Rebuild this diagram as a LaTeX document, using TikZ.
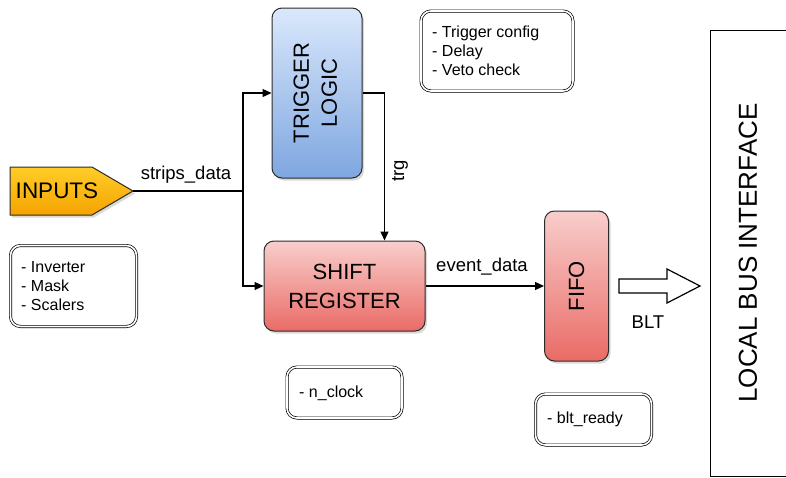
\documentclass[tikz,border=0pt]{standalone}
\usepackage{fontspec}
\setmainfont{Liberation Sans}
\usetikzlibrary{arrows.meta,shadows,calc}

\definecolor{orangetop}{HTML}{FFCD28}
\definecolor{orangebot}{HTML}{F5A300}
\definecolor{bluetop}{HTML}{DAE8FC}
\definecolor{bluebot}{HTML}{7EA6E0}
\definecolor{redtop}{HTML}{F8CECC}
\definecolor{redbot}{HTML}{EA6B66}
\definecolor{edge}{HTML}{2B2B2B}

\tikzset{
  blockshadow/.style={drop shadow={opacity=0.3,shadow xshift=2pt,shadow yshift=-2.5pt}},
  block/.style={draw=edge, line width=1pt, rounded corners=10pt, inner sep=0pt,
    blockshadow, font=\fontsize{22}{29}\selectfont, align=center},
  blueblock/.style={block, top color=bluetop, bottom color=bluebot},
  redblock/.style={block, top color=redtop, bottom color=redbot},
  notebox/.style={draw=black, fill=white, line width=0.7pt, double=white, double distance=1.6pt,
    rounded corners=10pt, inner sep=0pt,
    drop shadow={opacity=0.2,shadow xshift=1pt,shadow yshift=-1.5pt}},
  notetext/.style={font=\fontsize{16}{19}\selectfont, align=left, anchor=west, inner sep=0pt},
  wire/.style={line width=1.3pt, draw=black},
  arrowwire/.style={wire, -{Triangle[length=9pt,width=8pt]}},
  lbl/.style={font=\fontsize{18.5}{21}\selectfont, inner sep=0pt},
}

\begin{document}
\begin{tikzpicture}[x=1pt,y=-1pt]
\useasboundingbox (0,0) rectangle (786,477);

% input port
\path[draw=edge, line width=1pt, top color=orangetop, bottom color=orangebot, blockshadow]
  (10,167) -- (92,167) -- (133,191) -- (92,215) -- (10,215) -- cycle;
\node[font=\fontsize{22.5}{26}\selectfont, inner sep=0pt] (inputs) at (57,191) {INPUTS};
\coordinate (inputstip) at (133,191);

% processing blocks
\node[blueblock, minimum width=90pt, minimum height=170pt] (trig) at (317,93)
  {\rotatebox{90}{\begin{tabular}{@{}c@{}}TRIGGER\\[-1pt]LOGIC\end{tabular}}};
\node[redblock, minimum width=161pt, minimum height=90pt] (shift) at (344.5,286)
  {SHIFT\\REGISTER};
\node[redblock, minimum width=64pt, minimum height=150pt] (fifo) at (576.5,286)
  {\rotatebox{90}{FIFO}};

% notes
\node[notebox, minimum width=152pt, minimum height=80pt] (notetrig) at (497,51) {};
\node[notetext] (notetrigtext) at (432,51) {- Trigger config\\- Delay\\- Veto check};
\node[notebox, minimum width=126pt, minimum height=81pt] (noteinp) at (73.5,286) {};
\node[notetext] (noteinptext) at (21,286) {- Inverter\\- Mask\\- Scalers};
\node[notebox, minimum width=115pt, minimum height=51pt] (noteshift) at (344.5,392.5) {};
\node[notetext] (noteshifttext) at (299,393) {- n\_clock};
\node[notebox, minimum width=116pt, minimum height=51pt] (notefifo) at (593.5,419.5) {};
\node[notetext] (notefifotext) at (547,419) {- blt\_ready};

% connectors
\coordinate (split) at (243,191);
\draw[wire] (inputstip) -- (split);
\draw[arrowwire] (split) |- (trig.west);
\draw[arrowwire] (split) |- (shift.west);
\node[lbl] (stripslbl) at (186,175) {strips\_data};

\draw[arrowwire] (trig.east) -| ([xshift=40pt]shift.north);
\node[lbl, rotate=90] (trglbl) at (400,171) {trg};

\draw[arrowwire] (shift.east) -- (fifo.west);
\node[lbl] (eventlbl) at (482,267) {event\_data};

% block transfer arrow
\draw[line width=1.2pt, fill=white]
  (619,279) -- (667,279) -- (667,269) -- (700,286) -- (667,303) -- (667,293) -- (619,293) -- cycle;
\node[lbl] (bltlbl) at (648,322) {BLT};

% local bus interface
\draw[line width=0.8pt] (786,30) -- (710,30) -- (710,476) -- (786,476);
\node[font=\fontsize{26}{30}\selectfont, rotate=90, inner sep=0pt] (lbus) at (748,253)
  {LOCAL BUS INTERFACE};
\end{tikzpicture}
\end{document}
